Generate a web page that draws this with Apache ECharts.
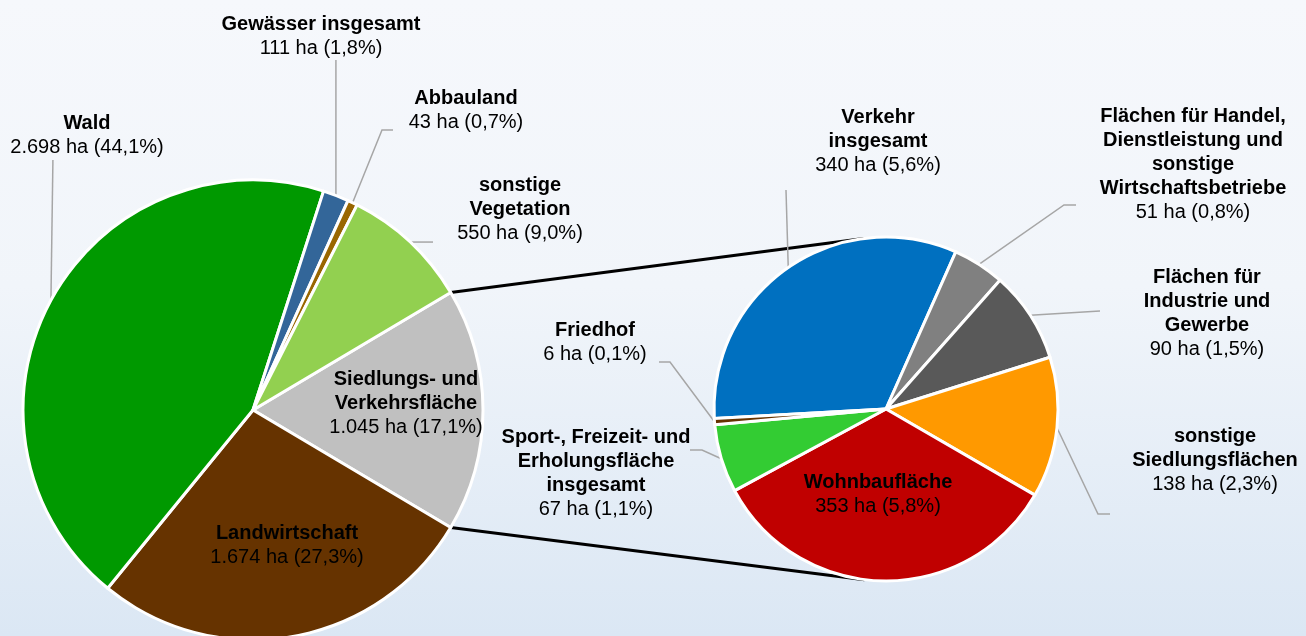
<!DOCTYPE html>
<html><head><meta charset="utf-8">
<script src="https://cdn.jsdelivr.net/npm/echarts@6/dist/echarts.min.js"></script>
<style>html,body{margin:0;padding:0;background:#eef3fa;}#c{width:1306px;height:636px;}</style>
</head><body><div id="c"></div>
<script>
// ---- data ----
const mainNames = ['Siedlungs- und\nVerkehrsfläche', 'Landwirtschaft', 'Wald', 'Gewässer insgesamt', 'Abbauland', 'sonstige\nVegetation'];
const mainValues = [1045, 1674, 2698, 111, 43, 550];
const subNames = ['Verkehr\ninsgesamt', 'Flächen für Handel,\nDienstleistung und\nsonstige\nWirtschaftsbetriebe', 'Flächen für\nIndustrie und\nGewerbe', 'sonstige\nSiedlungsflächen', 'Wohnbaufläche', 'Sport-, Freizeit- und\nErholungsfläche\ninsgesamt', 'Friedhof'];
const subValues = [340, 51, 90, 138, 353, 67, 6];
const unit = 'ha';

// ---- styles / layout ----
const mainColors = ['#c0c0c0', '#663300', '#009900', '#336699', '#996600', '#92d050'];
const subColors = ['#0070c0', '#808080', '#595959', '#ff9900', '#c00000', '#33cc33', '#663300'];
const L = { c: [253, 410], r: 230 };
const R = { c: [886, 409], r: 172 };
const subStart = 183.2;

const total = mainValues.reduce((a, b) => a + b, 0);
const half = mainValues[0] / total * 180;

function fmtNum(v) { return String(v).replace(/\B(?=(\d{3})+(?!\d))/g, '.'); }
function fmtPct(v) { return (v / total * 100).toFixed(1).replace('.', ','); }
function labelText(name, v) { return '{b|' + name + '}\n{v|' + fmtNum(v) + ' ' + unit + ' (' + fmtPct(v) + '%)}'; }

// label placements (centre of the text block) and leader line shapes
const mainPos = [
  { x: 406, y: 403 },
  { x: 287, y: 545 },
  { x: 87, y: 135, line: p => [p, [p[0] + 2, 160]] },
  { x: 321, y: 36, line: p => [p, [p[0], 60]] },
  { x: 466, y: 110, line: p => [p, [382, 130], [393, 130]] },
  { x: 520, y: 209, line: p => [p, [433, p[1]]] }
];
const subPos = [
  { x: 878, y: 141, line: p => [p, [786, 190]] },
  { x: 1193, y: 164, line: p => [p, [1064, 205], [1076, 205]] },
  { x: 1207, y: 313, line: p => [p, [1100, 311]] },
  { x: 1215, y: 460, line: p => [p, [1098, 514], [1110, 514]] },
  { x: 878, y: 494 },
  { x: 596, y: 473, line: p => [p, [702, 450], [690, 450]] },
  { x: 595, y: 342, line: p => [p, [670, 362], [659, 362]] }
];

const richStyle = {
  b: { fontFamily: 'Liberation Sans, Arial, sans-serif', fontWeight: 'bold', fontSize: 20, lineHeight: 24, color: '#000' },
  v: { fontFamily: 'Liberation Sans, Arial, sans-serif', fontSize: 20, lineHeight: 24, color: '#000' }
};

function makeData(names, values, colors, pos) {
  return names.map((n, i) => ({
    name: n, value: values[i],
    itemStyle: { color: colors[i] },
    labelLine: { show: !!pos[i].line }
  }));
}
function layoutFn(pos) {
  return function (params) {
    const p = pos[params.dataIndex];
    const res = { x: p.x, y: p.y, align: 'center', verticalAlign: 'middle' };
    if (p.line && params.labelLinePoints) res.labelLinePoints = p.line(params.labelLinePoints[0]);
    return res;
  };
}

// tangent connector lines from the split slice corners to the second pie
const cornerTop = [L.c[0] + L.r * Math.cos(half * Math.PI / 180), L.c[1] - L.r * Math.sin(half * Math.PI / 180)];
const cornerBot = [L.c[0] + L.r * Math.cos(half * Math.PI / 180), L.c[1] + L.r * Math.sin(half * Math.PI / 180)];
function tangent(P, C, r, sign) {
  const dx = C[0] - P[0], dy = C[1] - P[1];
  const d = Math.hypot(dx, dy);
  const ang = Math.atan2(dy, dx) + sign * Math.asin(r / d);
  const t = Math.sqrt(d * d - r * r);
  return [P[0] + t * Math.cos(ang), P[1] + t * Math.sin(ang)];
}
const tTop = tangent(cornerTop, R.c, R.r, -1);
const tBot = tangent(cornerBot, R.c, R.r, 1);

const seriesCommon = {
  type: 'pie',
  clockwise: true,
  avoidLabelOverlap: false,
  itemStyle: { borderColor: '#ffffff', borderWidth: 3 },
  label: { show: true, position: 'outside', formatter: p => labelText(p.name, p.value), rich: richStyle },
  labelLine: { show: true, lineStyle: { color: '#a6a6a6', width: 1.5 } },
  emphasis: { disabled: true }
};

const chart = echarts.init(document.getElementById('c'), null, { renderer: 'canvas' });
chart.setOption({
  animation: false,
  backgroundColor: {
    type: 'linear', x: 0, y: 0, x2: 0, y2: 1,
    colorStops: [{ offset: 0, color: '#f6f8fc' }, { offset: 0.45, color: '#f1f5fa' }, { offset: 1, color: '#dbe7f4' }]
  },
  graphic: [
    { type: 'line', z: 0, shape: { x1: cornerTop[0], y1: cornerTop[1], x2: tTop[0], y2: tTop[1] }, style: { stroke: '#000', lineWidth: 3 } },
    { type: 'line', z: 0, shape: { x1: cornerBot[0], y1: cornerBot[1], x2: tBot[0], y2: tBot[1] }, style: { stroke: '#000', lineWidth: 3 } }
  ],
  series: [
    Object.assign({}, seriesCommon, {
      center: L.c, radius: L.r, startAngle: half,
      data: makeData(mainNames, mainValues, mainColors, mainPos),
      labelLayout: layoutFn(mainPos)
    }),
    Object.assign({}, seriesCommon, {
      center: R.c, radius: R.r, startAngle: subStart,
      data: makeData(subNames, subValues, subColors, subPos),
      labelLayout: layoutFn(subPos)
    })
  ]
});
</script></body></html>
